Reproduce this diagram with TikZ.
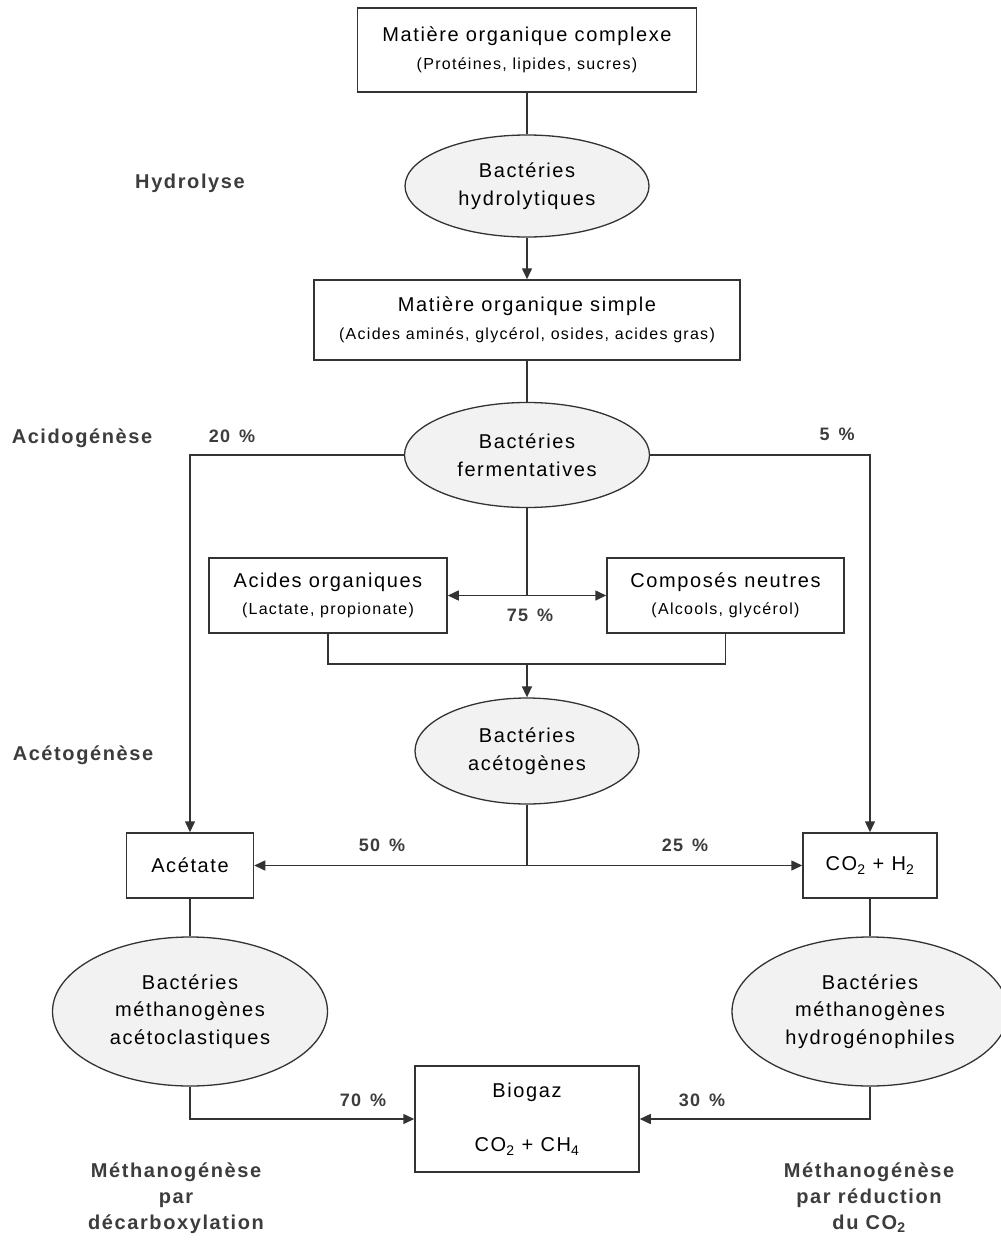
\documentclass[tikz,border=0pt]{standalone}
\usepackage{fontspec}
\setmainfont{Liberation Sans}[LetterSpace=8]
\usetikzlibrary{arrows.meta,shapes.geometric}
\definecolor{linegray}{HTML}{333333}
\definecolor{labelgray}{HTML}{3C3C3C}
\definecolor{bactfill}{HTML}{F2F2F2}
\newcommand{\petit}[1]{{\fontsize{16}{18}\selectfont #1}}

\begin{document}
\begin{tikzpicture}[x=1pt, y=-1pt, every node/.style={font=\fontsize{20}{27.5}\selectfont}, box/.style={draw=linegray,line width=1.5pt,fill=white,align=center,inner sep=0pt}, bact/.style={ellipse,draw=linegray,line width=1.3pt,fill=bactfill,align=center,inner sep=0pt}, stage/.style={font=\bfseries\fontsize{20}{26}\selectfont,text=labelgray,align=center}, pct/.style={font=\bfseries\fontsize{18}{20}\selectfont,text=labelgray}, ln/.style={draw=linegray,line width=1.5pt}, arr/.style={ln,-{Triangle[length=11pt,width=10pt]}}, dbl/.style={ln,{Triangle[length=11pt,width=10pt]}-{Triangle[length=11pt,width=10pt]}}]
\useasboundingbox (0,0) rectangle (1001,1242);
% boxes and bacteria
\node[box,minimum width=339pt,minimum height=84pt] (complexe) at (527,50) {Matière organique complexe\\\petit{(Protéines, lipides, sucres)}};
\node[bact,minimum width=244pt,minimum height=102pt] (hydro) at (527,186) {Bactéries\\hydrolytiques};
\node[box,minimum width=426pt,minimum height=80pt] (simple) at (527,320) {Matière organique simple\\\petit{(Acides aminés, glycérol, osides, acides gras)}};
\node[bact,minimum width=245pt,minimum height=105pt] (ferm) at (527,455) {Bactéries\\fermentatives};
\node[box,minimum width=238pt,minimum height=75pt] (acides) at (328,595.5) {Acides organiques\\\petit{(Lactate, propionate)}};
\node[box,minimum width=237pt,minimum height=75pt] (neutres) at (725.5,595.5) {Composés neutres\\\petit{(Alcools, glycérol)}};
\node[bact,minimum width=224pt,minimum height=106pt] (aceto) at (527,751) {Bactéries\\acétogènes};
\node[box,minimum width=127pt,minimum height=65pt] (acetate) at (190,865.5) {Acétate};
\node[box,minimum width=134pt,minimum height=65pt] (coh) at (870,865.5) {CO\textsubscript{2} + H\textsubscript{2}};
\node[bact,minimum width=275pt,minimum height=149pt] (metacet) at (190,1011.5) {Bactéries\\méthanogènes\\acétoclastiques};
\node[bact,minimum width=276pt,minimum height=149pt] (methyd) at (870,1011.5) {Bactéries\\méthanogènes\\hydrogénophiles};
\node[box,minimum width=224pt,minimum height=106pt] (biogaz) at (527,1119) {Biogaz\\[27pt]CO\textsubscript{2} + CH\textsubscript{4}};
% stages
\node[stage] (hydrolyse) at (190,183) {Hydrolyse};
\node[stage] (acidogenese) at (82,438) {Acidogénèse};
\node[stage] (acetogenese) at (83,755) {Acétogénèse};
\node[stage] (decarb) at (176,1198) {Méthanogénèse\\par\\décarboxylation};
\node[stage] (reduc) at (869,1198) {Méthanogénèse\\par réduction\\du CO\textsubscript{2}};
% percentages
\node[pct] (p20) at (232,436) {20\enspace\%};
\node[pct] (p5) at (837,434) {5\enspace\%};
\node[pct] (p75) at (530,615) {75\enspace\%};
\node[pct] (p50) at (382,845) {50\enspace\%};
\node[pct] (p25) at (685,845) {25\enspace\%};
\node[pct] (p70) at (363,1100) {70\enspace\%};
\node[pct] (p30) at (702,1100) {30\enspace\%};
% connectors
\coordinate (split) at (527,595.5);
\coordinate (merge) at (527,664);
\coordinate (fork) at (527,865.5);
\draw[ln] (complexe) -- (hydro);
\draw[arr] (hydro) -- (simple);
\draw[ln] (simple) -- (ferm);
\draw[arr] (ferm.west) -| (acetate.north);
\draw[arr] (ferm.east) -| (coh.north);
\draw[ln] (ferm) -- (split);
\draw[dbl] (acides) -- (neutres);
\draw[ln] (acides.south) |- (merge) -| (neutres.south);
\draw[arr] (merge) -- (aceto);
\draw[ln] (aceto) -- (fork);
\draw[dbl] (acetate) -- (coh);
\draw[ln] (acetate) -- (metacet);
\draw[ln] (coh) -- (methyd);
\draw[arr] (metacet.south) |- (biogaz.west);
\draw[arr] (methyd.south) |- (biogaz.east);
\end{tikzpicture}
\end{document}
